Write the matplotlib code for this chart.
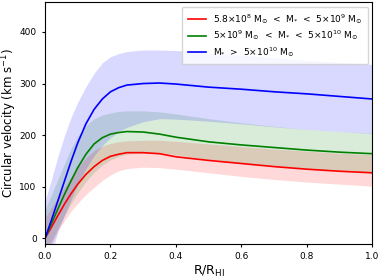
import numpy as np
import matplotlib
matplotlib.use('Agg')
import matplotlib.pyplot as plt

# radius in units of R_HI
r = [0, 0.02, 0.04, 0.06, 0.08, 0.10, 0.125, 0.15, 0.175, 0.20, 0.225,
     0.25, 0.30, 0.35, 0.40, 0.50, 0.60, 0.70, 0.80, 0.90, 1.00]

# low mass bin
red_mid = [0, 22, 45, 67, 87, 105, 124, 139, 151, 159, 163,
           166, 166, 164, 158, 151, 145, 139, 134, 130, 127]
red_lo = [-30, -10, 15, 35, 53, 68, 85, 99, 112, 123, 131,
          135, 138, 137, 134, 127, 120, 114, 109, 105, 101]
red_hi = [40, 60, 80, 100, 120, 138, 156, 170, 179, 184, 187,
          189, 190, 190, 188, 183, 178, 173, 169, 165, 162]

# intermediate mass bin
green_mid = [0, 29, 58, 86, 112, 137, 163, 183, 195, 202, 205,
             207, 206, 202, 196, 187, 181, 176, 171, 167, 164]
green_lo = [-30, -5, 20, 45, 68, 88, 110, 128, 142, 152, 159,
            163, 166, 166, 162, 153, 146, 140, 135, 131, 127]
green_hi = [55, 85, 115, 145, 175, 198, 218, 232, 239, 243, 246,
            247, 247, 245, 241, 232, 224, 217, 211, 207, 204]

# high mass bin
blue_mid = [0, 36, 74, 112, 150, 185, 222, 250, 270, 284, 292,
            297, 300, 301, 299, 293, 289, 284, 280, 275, 270]
blue_lo = [-70, -30, 15, 45, 75, 105, 135, 160, 180, 195, 207,
           215, 226, 232, 231, 227, 222, 216, 211, 207, 203]
blue_hi = [72, 115, 160, 200, 235, 264, 294, 320, 340, 352, 358,
           362, 365, 365, 364, 360, 355, 350, 345, 341, 337]

labels = [r'5.8$\times$10$^{8}$ M$_{\odot}$  <  M$_{*}$  <  5$\times$10$^{9}$ M$_{\odot}$',
          r'5$\times$10$^{9}$ M$_{\odot}$  <  M$_{*}$  <  5$\times$10$^{10}$ M$_{\odot}$',
          r'M$_{*}$  >  5$\times$10$^{10}$ M$_{\odot}$']

fig = plt.figure(figsize=(3.82, 2.79), dpi=100)
ax = fig.add_axes([0.1178, 0.1254, 0.8573, 0.8674])

series = [(red_mid, red_lo, red_hi, 'red'),
          (green_mid, green_lo, green_hi, 'green'),
          (blue_mid, blue_lo, blue_hi, 'blue')]

for (mid, lo, hi, c), lab in zip(series, labels):
    ax.plot(r, mid, color=c, lw=1.2, label=lab)
    ax.fill_between(r, lo, hi, color=c, alpha=0.15, lw=0)

ax.set_xlim(0, 1)
ax.set_ylim(-11, 458)
ax.set_xticks([0, 0.2, 0.4, 0.6, 0.8, 1.0])
ax.set_yticks([0, 100, 200, 300, 400])
ax.tick_params(labelsize=6.5, length=2.5)
ax.set_xlabel(r'R/R$_{\rm HI}$', fontsize=9, labelpad=2)
ax.set_ylabel(r'Circular velocity (km s$^{-1}$)', fontsize=8.5)
ax.yaxis.set_label_coords(-0.078, 0.5)
ax.legend(loc='upper right', fontsize=6.5, handlelength=2.0, borderpad=0.6,
          labelspacing=0.3)

fig.savefig('out.png', dpi=100)
